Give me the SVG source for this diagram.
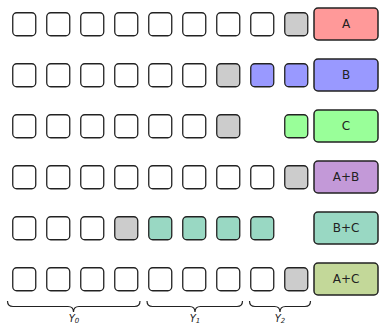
<svg xmlns="http://www.w3.org/2000/svg" width="380" height="325" viewBox="0 0 380 325">
<style>
.s{stroke:#222;stroke-width:1.3;fill:#fff}
.g{fill:#cccccc}
.b{fill:#9999ff}
.c{fill:#99ff99}
.bc{fill:#99d8c3}
.big{stroke:#222;stroke-width:1.5}
.lbl{font-family:"DejaVu Sans",sans-serif;font-size:12px;fill:#222;text-anchor:middle}
.brace{fill:none;stroke:#222;stroke-width:1.2}
.ylbl{font-family:"DejaVu Sans",sans-serif;font-style:italic;font-size:10px;fill:#222;text-anchor:middle}
</style>
<defs>
<rect id="sq" width="23" height="23" rx="4"/>
</defs>
<g id="rowA">
<use href="#sq" class="s" x="12.75" y="12.75"/>
<use href="#sq" class="s" x="46.75" y="12.75"/>
<use href="#sq" class="s" x="80.75" y="12.75"/>
<use href="#sq" class="s" x="114.75" y="12.75"/>
<use href="#sq" class="s" x="148.75" y="12.75"/>
<use href="#sq" class="s" x="182.75" y="12.75"/>
<use href="#sq" class="s" x="216.75" y="12.75"/>
<use href="#sq" class="s" x="250.75" y="12.75"/>
<use href="#sq" class="s g" x="284.75" y="12.75"/>
</g>
<g id="nodeA"><rect class="big" x="314" y="8" width="64" height="32" rx="4" fill="#ff9999"/><text class="lbl" x="346" y="28.3">A</text></g>
<g id="rowB">
<use href="#sq" class="s" x="12.75" y="63.75"/>
<use href="#sq" class="s" x="46.75" y="63.75"/>
<use href="#sq" class="s" x="80.75" y="63.75"/>
<use href="#sq" class="s" x="114.75" y="63.75"/>
<use href="#sq" class="s" x="148.75" y="63.75"/>
<use href="#sq" class="s" x="182.75" y="63.75"/>
<use href="#sq" class="s g" x="216.75" y="63.75"/>
<use href="#sq" class="s b" x="250.75" y="63.75"/>
<use href="#sq" class="s b" x="284.75" y="63.75"/>
</g>
<g id="nodeB"><rect class="big" x="314" y="59" width="64" height="32" rx="4" fill="#9999ff"/><text class="lbl" x="346" y="79.3">B</text></g>
<g id="rowC">
<use href="#sq" class="s" x="12.75" y="114.75"/>
<use href="#sq" class="s" x="46.75" y="114.75"/>
<use href="#sq" class="s" x="80.75" y="114.75"/>
<use href="#sq" class="s" x="114.75" y="114.75"/>
<use href="#sq" class="s" x="148.75" y="114.75"/>
<use href="#sq" class="s" x="182.75" y="114.75"/>
<use href="#sq" class="s g" x="216.75" y="114.75"/>
<use href="#sq" class="s c" x="284.75" y="114.75"/>
</g>
<g id="nodeC"><rect class="big" x="314" y="110" width="64" height="32" rx="4" fill="#99ff99"/><text class="lbl" x="346" y="130.3">C</text></g>
<g id="rowAB">
<use href="#sq" class="s" x="12.75" y="165.75"/>
<use href="#sq" class="s" x="46.75" y="165.75"/>
<use href="#sq" class="s" x="80.75" y="165.75"/>
<use href="#sq" class="s" x="114.75" y="165.75"/>
<use href="#sq" class="s" x="148.75" y="165.75"/>
<use href="#sq" class="s" x="182.75" y="165.75"/>
<use href="#sq" class="s" x="216.75" y="165.75"/>
<use href="#sq" class="s" x="250.75" y="165.75"/>
<use href="#sq" class="s g" x="284.75" y="165.75"/>
</g>
<g id="nodeAB"><rect class="big" x="314" y="161" width="64" height="32" rx="4" fill="#c399d8"/><text class="lbl" x="346" y="181.3">A+B</text></g>
<g id="rowBC">
<use href="#sq" class="s" x="12.75" y="216.75"/>
<use href="#sq" class="s" x="46.75" y="216.75"/>
<use href="#sq" class="s" x="80.75" y="216.75"/>
<use href="#sq" class="s g" x="114.75" y="216.75"/>
<use href="#sq" class="s bc" x="148.75" y="216.75"/>
<use href="#sq" class="s bc" x="182.75" y="216.75"/>
<use href="#sq" class="s bc" x="216.75" y="216.75"/>
<use href="#sq" class="s bc" x="250.75" y="216.75"/>
</g>
<g id="nodeBC"><rect class="big" x="314" y="212" width="64" height="32" rx="4" fill="#99d8c3"/><text class="lbl" x="346" y="232.3">B+C</text></g>
<g id="rowAC">
<use href="#sq" class="s" x="12.75" y="267.75"/>
<use href="#sq" class="s" x="46.75" y="267.75"/>
<use href="#sq" class="s" x="80.75" y="267.75"/>
<use href="#sq" class="s" x="114.75" y="267.75"/>
<use href="#sq" class="s" x="148.75" y="267.75"/>
<use href="#sq" class="s" x="182.75" y="267.75"/>
<use href="#sq" class="s" x="216.75" y="267.75"/>
<use href="#sq" class="s" x="250.75" y="267.75"/>
<use href="#sq" class="s g" x="284.75" y="267.75"/>
</g>
<g id="nodeAC"><rect class="big" x="314" y="263" width="64" height="32" rx="4" fill="#c3d899"/><text class="lbl" x="346" y="283.3">A+C</text></g>
<g id="braces">
<path class="brace" d="M7.5,301 Q7.5,306.5 13,306.5 L68,306.5 Q73.5,306.5 73.5,312 Q73.5,306.5 79,306.5 L134.5,306.5 Q140,306.5 140,301"/>
<path class="brace" d="M147,301 Q147,306.5 152.5,306.5 L189.5,306.5 Q195,306.5 195,312 Q195,306.5 200.5,306.5 L237,306.5 Q242.5,306.5 242.5,301"/>
<path class="brace" d="M249.5,301 Q249.5,306.5 255,306.5 L274.5,306.5 Q280,306.5 280,312 Q280,306.5 285.5,306.5 L305,306.5 Q310.5,306.5 310.5,301"/>
</g>
<g id="labels">
<text class="ylbl" x="74" y="321.5">Y<tspan font-size="7" dy="1.8">0</tspan></text>
<text class="ylbl" x="195" y="321.5">Y<tspan font-size="7" dy="1.8">1</tspan></text>
<text class="ylbl" x="280" y="321.5">Y<tspan font-size="7" dy="1.8">2</tspan></text>
</g>
</svg>
